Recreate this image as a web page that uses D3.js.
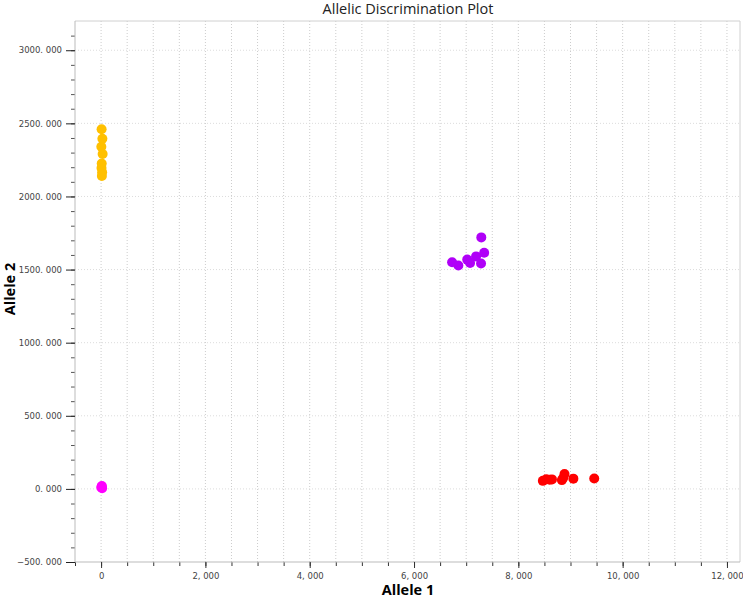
<!DOCTYPE html>
<html>
<head>
<meta charset="utf-8">
<script src="https://cdn.jsdelivr.net/npm/d3@7"></script>
<style>
  body { margin: 0; background: #fff; }
  .tick text { font-family: "DejaVu Sans", sans-serif; font-size: 8.5px; fill: #444; }
</style>
</head>
<body>
<svg id="chart" width="743" height="600"></svg>
<script>
// allele 1 / allele 2 readings per cluster
const yellowX = [10, 25, 5, 30, 12, 8, 20, 15];
const yellowY = [2460, 2395, 2340, 2290, 2225, 2195, 2165, 2140];

const magentaX = [5, 15, 20, 10];
const magentaY = [10, 20, 5, 15];

const purpleX = [6730, 6850, 7020, 7075, 7190, 7290, 7345, 7285];
const purpleY = [1550, 1528, 1568, 1545, 1590, 1720, 1615, 1542];

const redX = [8470, 8535, 8600, 8645, 8835, 8885, 8860, 9055, 9455];
const redY = [55, 66, 62, 65, 60, 101, 75, 70, 71];

const xTicks = [0, 2000, 4000, 6000, 8000, 10000, 12000];
const yTicks = [-500, 0, 500, 1000, 1500, 2000, 2500, 3000];

const svg = d3.select("#chart");
const mLeft = 75, mRight = 740, mTop = 21, mBottom = 562;

const x = d3.scaleLinear().domain([-500, 12250]).range([mLeft, mRight]);
const y = d3.scaleLinear().domain([-500, 3200]).range([mBottom, mTop]);

const fmtX = d => d3.format(",")(d).replace(",", ", ");
const fmtY = d => d3.format(".3f")(d).replace(".", ". ");

// grid lines, every 500 on x, every 500 on y
const gx = d3.range(0, 12250, 500);
svg.append("g").selectAll("line").data(gx).join("line")
    .attr("x1", d => x(d)).attr("x2", d => x(d))
    .attr("y1", mTop).attr("y2", mBottom)
    .attr("stroke", "#cccccc").attr("stroke-dasharray", "1,2");
svg.append("g").selectAll("line").data(yTicks.slice(1)).join("line")
    .attr("x1", mLeft).attr("x2", mRight)
    .attr("y1", d => y(d)).attr("y2", d => y(d))
    .attr("stroke", "#dcdcdc").attr("stroke-dasharray", "1,2");

// frame top and right
svg.append("line").attr("x1", mLeft).attr("x2", mRight).attr("y1", mTop).attr("y2", mTop)
    .attr("stroke", "#d0d0d0");
svg.append("line").attr("x1", mRight).attr("x2", mRight).attr("y1", mTop).attr("y2", mBottom)
    .attr("stroke", "#d0d0d0");

// minor ticks
svg.append("g").attr("transform", `translate(0,${mBottom})`)
    .call(d3.axisBottom(x).tickValues(d3.range(-500, 12250, 500)).tickSize(4).tickFormat(""))
    .call(g => g.select(".domain").remove())
    .selectAll("line").attr("stroke", "#333");
svg.append("g").attr("transform", `translate(${mLeft},0)`)
    .call(d3.axisLeft(y).tickValues(d3.range(-500, 3200, 100)).tickSize(4).tickFormat(""))
    .call(g => g.select(".domain").remove())
    .selectAll("line").attr("stroke", "#555");

// major axes
const xAxis = svg.append("g").attr("transform", `translate(0,${mBottom})`)
    .call(d3.axisBottom(x).tickValues(xTicks).tickSize(6).tickPadding(5).tickFormat(fmtX));
xAxis.select(".domain").attr("d", `M${mLeft},0H${mRight}`).attr("stroke", "#bbb");
xAxis.selectAll(".tick line").attr("stroke", "#333");

const yAxis = svg.append("g").attr("transform", `translate(${mLeft},0)`)
    .call(d3.axisLeft(y).tickValues(yTicks).tickSize(9).tickPadding(4).tickFormat(fmtY));
yAxis.select(".domain").attr("d", `M0,${mTop}V${mBottom}`).attr("stroke", "#bbb");
yAxis.selectAll(".tick line").attr("stroke", "#222");

// points
function cluster(xs, ys, color) {
  svg.append("g").selectAll("circle").data(xs).join("circle")
      .attr("cx", d => x(d))
      .attr("cy", (d, i) => y(ys[i]))
      .attr("r", 5)
      .attr("fill", color);
}
cluster(yellowX, yellowY, "#ffc000");
cluster(magentaX, magentaY, "#ff00ff");
cluster(purpleX, purpleY, "#b000f8");
cluster(redX, redY, "#ff0000");

// titles
svg.append("text").attr("x", 408).attr("y", 14).attr("text-anchor", "middle")
    .attr("font-family", "Open Sans, sans-serif").attr("font-size", 14.5).attr("fill", "#222")
    .text("Allelic Discrimination Plot");
svg.append("text").attr("x", 408).attr("y", 595).attr("text-anchor", "middle")
    .attr("font-family", "Open Sans, sans-serif").attr("font-size", 14.5).attr("font-weight", "bold")
    .text("Allele 1");
svg.append("text").attr("transform", "translate(15,289) rotate(-90)").attr("text-anchor", "middle")
    .attr("font-family", "Open Sans, sans-serif").attr("font-size", 14.5).attr("font-weight", "bold")
    .text("Allele 2");
</script>
</body>
</html>
